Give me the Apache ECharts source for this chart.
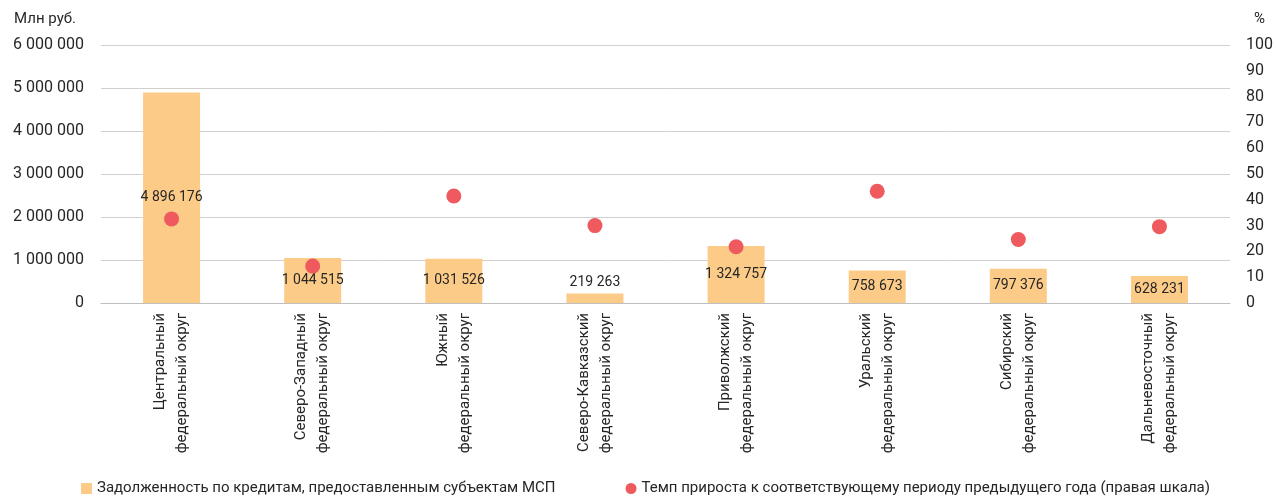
<!DOCTYPE html>
<html>
<head>
<meta charset="utf-8">
<script src="https://cdn.jsdelivr.net/npm/echarts@6/dist/echarts.min.js"></script>
<style>
  html, body { margin: 0; padding: 0; background: #fff; }
  #chart { width: 1276px; height: 502px; }
</style>
</head>
<body>
<div id="chart"></div>
<script>
// округа
var districts = [
    'Центральный\nфедеральный округ',
    'Северо-Западный\nфедеральный округ',
    'Южный\nфедеральный округ',
    'Северо-Кавказский\nфедеральный округ',
    'Приволжский\nфедеральный округ',
    'Уральский\nфедеральный округ',
    'Сибирский\nфедеральный округ',
    'Дальневосточный\nфедеральный округ'
];
// задолженность, млн руб.
var debt = [4896176, 1044515, 1031526, 219263, 1324757, 758673, 797376, 628231];
// темп прироста, %
var growth = [32.6, 14.3, 41.5, 30.0, 21.8, 43.3, 24.6, 29.6];

var debtName = 'Задолженность по кредитам, предоставленным субъектам МСП';
var growthName = 'Темп прироста к соответствующему периоду предыдущего года (правая шкала)';

var font = 'Roboto, sans-serif';
var textColor = '#262626';

function spaced(v) {
    return String(v).replace(/\B(?=(\d{3})+(?!\d))/g, ' ');
}

var chart = echarts.init(document.getElementById('chart'));
var option = {
    animation: false,
    textStyle: { fontFamily: font, color: textColor },
    grid: { left: 101, right: 44, top: 45, bottom: 199 },
    legend: {
        bottom: 1,
        left: 76,
        width: 1200,
        itemGap: 70,
        itemWidth: 11,
        itemHeight: 11,
        textStyle: { fontFamily: font, fontSize: 15, color: textColor },
        data: [
            { name: debtName, icon: 'rect' },
            { name: growthName, icon: 'circle' }
        ]
    },
    xAxis: {
        type: 'category',
        data: districts,
        axisLine: { lineStyle: { color: '#bfbfbf' } },
        axisTick: { length: 6, lineStyle: { color: '#bfbfbf' } },
        axisLabel: {
            rotate: 90,
            margin: 10,
            fontFamily: font,
            fontSize: 15,
            lineHeight: 22,
            color: textColor
        }
    },
    yAxis: [
        {
            type: 'value',
            min: 0,
            max: 6000000,
            interval: 1000000,
            name: 'Млн руб.',
            nameGap: 18,
            nameTextStyle: { fontFamily: font, fontSize: 15, color: textColor, align: 'right', padding: [0, 25, 0, 0] },
            axisLabel: { margin: 17, fontSize: 16, color: textColor, formatter: spaced },
            splitLine: { lineStyle: { color: '#d0d0d0' } }
        },
        {
            type: 'value',
            min: 0,
            max: 100,
            interval: 10,
            name: '%',
            nameGap: 18,
            nameTextStyle: { fontFamily: font, fontSize: 15, color: textColor, align: 'left', padding: [0, 0, 0, 24] },
            axisLabel: { margin: 16, fontSize: 16, color: textColor },
            splitLine: { show: false }
        }
    ],
    series: [
        {
            name: debtName,
            type: 'bar',
            barWidth: 57,
            itemStyle: { color: '#fdcb88' },
            label: {
                show: true,
                position: 'inside',
                fontFamily: font,
                fontSize: 14,
                color: textColor,
                formatter: function (p) { return spaced(p.value); }
            },
            data: debt.map(function (v) {
                return v < 400000 ? { value: v, label: { position: 'top', distance: 4 } } : v;
            }),
            z: 2
        },
        {
            name: growthName,
            type: 'scatter',
            yAxisIndex: 1,
            symbolSize: 15,
            itemStyle: { color: '#ef5a5e', opacity: 1 },
            data: growth,
            z: 3
        }
    ]
};
chart.setOption(option);
</script>
</body>
</html>
